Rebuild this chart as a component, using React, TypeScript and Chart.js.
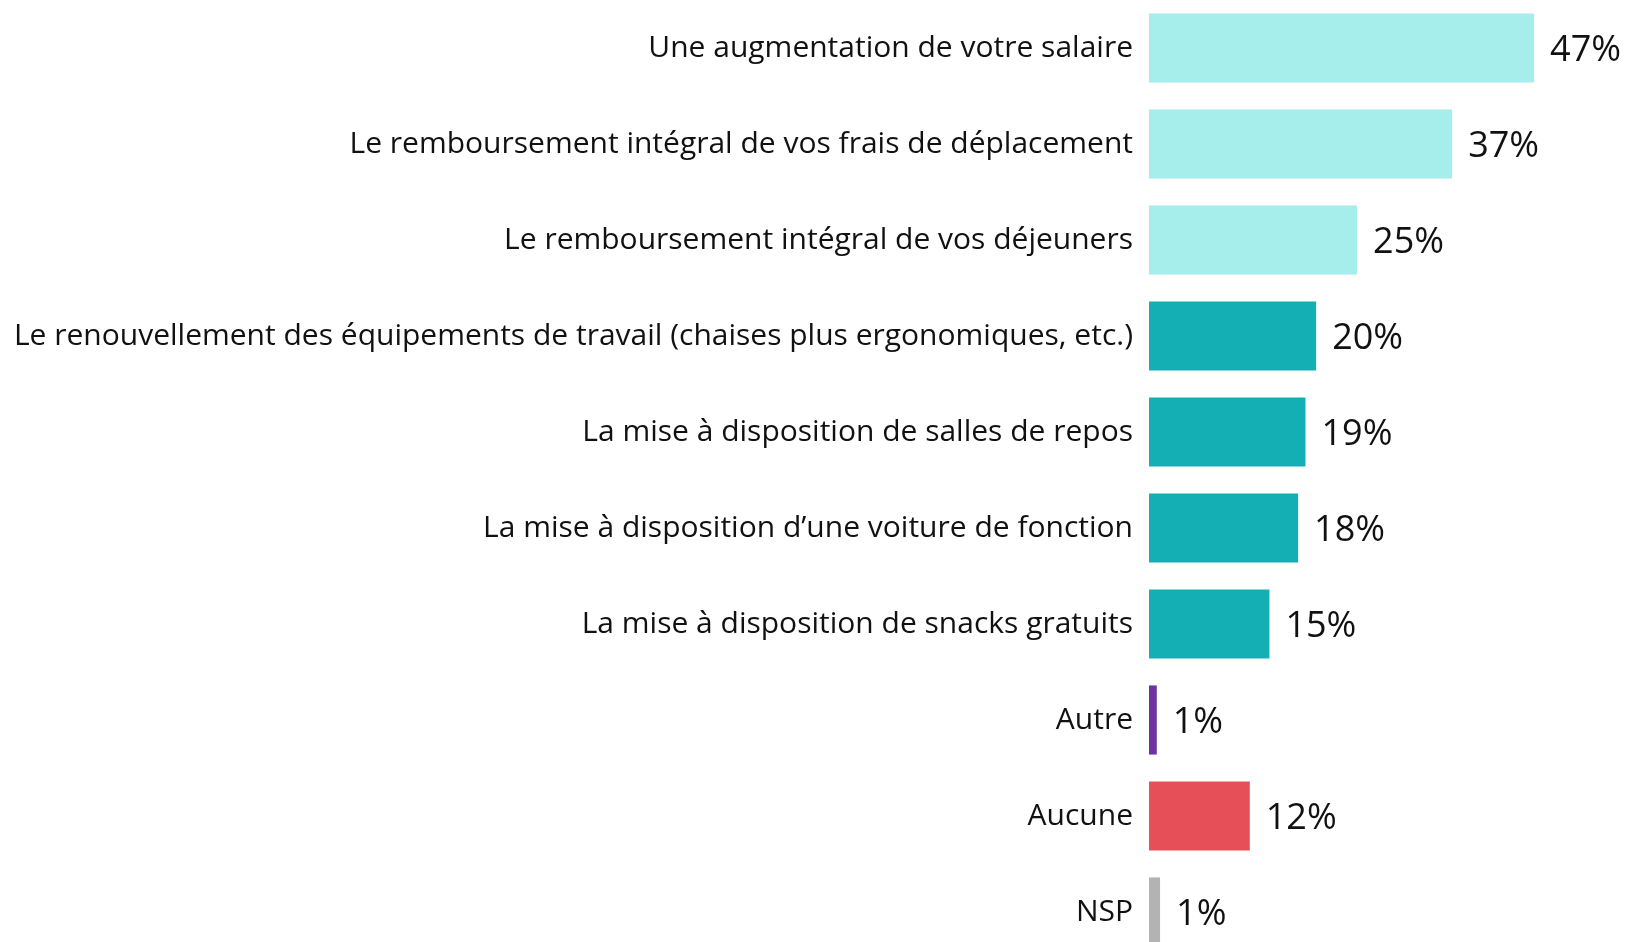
import React, { useEffect, useRef } from "react";
import { Chart, registerables } from "chart.js";

Chart.register(...registerables);

const categories = [
  "Une augmentation de votre salaire",
  "Le remboursement intégral de vos frais de déplacement",
  "Le remboursement intégral de vos déjeuners",
  "Le renouvellement des équipements de travail (chaises plus ergonomiques, etc.)",
  "La mise à disposition de salles de repos",
  "La mise à disposition d’une voiture de fonction",
  "La mise à disposition de snacks gratuits",
  "Autre",
  "Aucune",
  "NSP",
];

const values = [47, 37, 25.4, 20.4, 19.1, 18.2, 14.7, 0.95, 12.3, 1.35];

const valueLabels = ["47%", "37%", "25%", "20%", "19%", "18%", "15%", "1%", "12%", "1%"];

const barColors = [
  "#A6EEEC",
  "#A6EEEC",
  "#A6EEEC",
  "#13AFB5",
  "#13AFB5",
  "#13AFB5",
  "#13AFB5",
  "#7030A0",
  "#E64F57",
  "#B3B3B3",
];

const FONT = "'Open Sans', 'Noto Sans', sans-serif";

const valueLabelPlugin = {
  id: "valueLabels",
  afterDatasetsDraw(chart: any) {
    const ctx = chart.ctx;
    const meta = chart.getDatasetMeta(0);
    ctx.save();
    ctx.font = `36px ${FONT}`;
    ctx.fillStyle = "#111111";
    ctx.textAlign = "left";
    ctx.textBaseline = "middle";
    meta.data.forEach((bar: any, i: number) => {
      ctx.fillText(valueLabels[i], bar.x + 16, bar.y + 3);
    });
    ctx.restore();
  },
};

export default function App() {
  const ref = useRef<HTMLCanvasElement>(null);

  useEffect(() => {
    if (!ref.current) return;
    const chart = new Chart(ref.current, {
      type: "bar",
      data: {
        labels: categories,
        datasets: [
          {
            data: values,
            backgroundColor: barColors,
            borderWidth: 0,
            barPercentage: 0.72,
            categoryPercentage: 1,
          },
        ],
      },
      options: {
        indexAxis: "y",
        animation: false,
        responsive: false,
        devicePixelRatio: 1,
        layout: { padding: 0 },
        plugins: {
          legend: { display: false },
          tooltip: { enabled: false },
        },
        scales: {
          x: {
            display: false,
            min: 0,
            max: 58.1,
          },
          y: {
            grid: { display: false, drawTicks: false },
            border: { display: false },
            ticks: {
              padding: 16,
              color: "#111111",
              font: { family: FONT, size: 30 },
              autoSkip: false,
            },
            afterFit(scale: any) {
              scale.width = 1149;
              scale.paddingTop = 0;
              scale.paddingBottom = 0;
            },
          },
        },
      },
      plugins: [valueLabelPlugin],
    });
    return () => chart.destroy();
  }, []);

  return (
    <div
      style={{
        position: "fixed",
        left: 0,
        top: 0,
        width: 1625,
        height: 942,
        overflow: "hidden",
        background: "#ffffff",
      }}
    >
      <canvas ref={ref} width={1625} height={960} style={{ display: "block" }} />
    </div>
  );
}
